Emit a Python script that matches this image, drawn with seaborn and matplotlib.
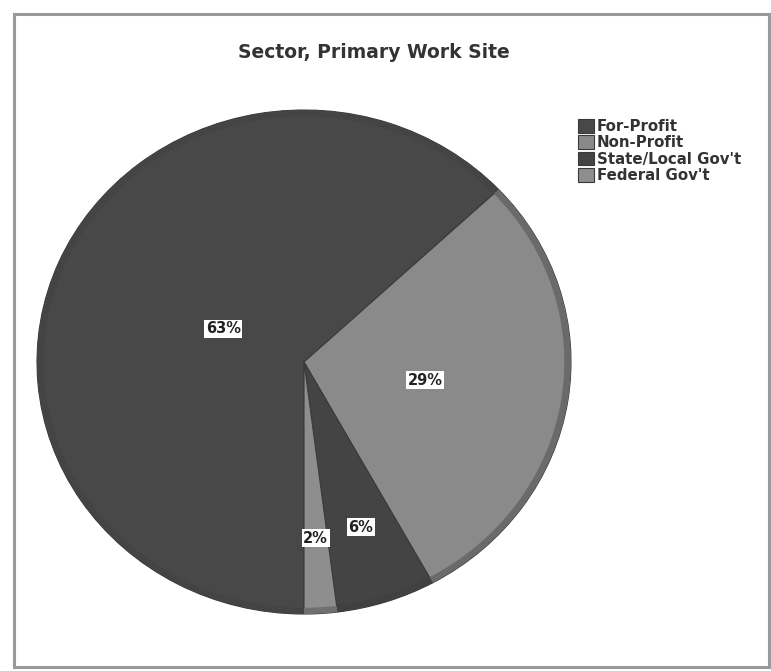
import matplotlib
matplotlib.use("Agg")
import matplotlib.pyplot as plt
import numpy as np
import seaborn as sns
from matplotlib.patches import Rectangle

sectors = ["For-Profit", "Non-Profit", "State/Local Gov't", "Federal Gov't"]
shares = [63, 29, 6, 2]
colors = ["#484848", "#8a8a8a", "#444444", "#8e8e8e"]
rim_colors = ["#444444", "#6a6a6a", "#404040", "#707070"]
label_radius = [0.33, 0.46, 0.69, 0.70]

sns.set_theme(style="white")
plt.rcParams["font.family"] = ["DejaVu Sans"]

W, H = 771, 671
fig = plt.figure(figsize=(W / 100, H / 100), dpi=100)
fig.patch.set_facecolor("white")

# outer chart frame
fig.add_artist(Rectangle((14 / W, 4 / H), 755 / W, 653 / H, transform=fig.transFigure,
                         fill=False, edgecolor="#9a9a9a", linewidth=2.2))

# pie area (slightly flattened ellipse)
left, right, top, bottom = 37, 571, 110, 614
ax = fig.add_axes([left / W, 1 - bottom / H, (right - left) / W, (bottom - top) / H])
wedges, _ = ax.pie(shares, colors=colors, startangle=270, counterclock=False,
                   radius=1.0, wedgeprops=dict(edgecolor="#3a3a3a", linewidth=0.8))
# darker rim along the outer edge of the slices
ax.pie(shares, colors=rim_colors, startangle=270, counterclock=False, radius=1.0,
       wedgeprops=dict(width=0.025, edgecolor="none"))
ax.set_aspect("auto")
ax.set_xlim(-1.0, 1.0)
ax.set_ylim(-1.0, 1.0)
ax.axis("off")

for w, val, r in zip(wedges, shares, label_radius):
    mid = np.deg2rad((w.theta1 + w.theta2) / 2)
    ax.text(r * np.cos(mid), r * np.sin(mid), f"{val}%", ha="center", va="center",
            fontsize=10.5, fontweight="bold", color="#222222",
            bbox=dict(boxstyle="square,pad=0.1", facecolor="white", edgecolor="none"))

fig.text(374 / W, 1 - 53 / H, "Sector, Primary Work Site", ha="center", va="center",
         fontsize=13.5, fontweight="bold", color="#333333")

leg = fig.legend(wedges, sectors, loc="upper left", bbox_to_anchor=(578 / W, 1 - 119 / H),
                 frameon=False, fontsize=10.8, handlelength=1.05, handleheight=1.05,
                 handletextpad=0.2, labelspacing=0.08, borderaxespad=0, borderpad=0)
for t in leg.get_texts():
    t.set_fontweight("bold")
    t.set_color("#333333")

fig.savefig("out.png", dpi=100, facecolor="white")
